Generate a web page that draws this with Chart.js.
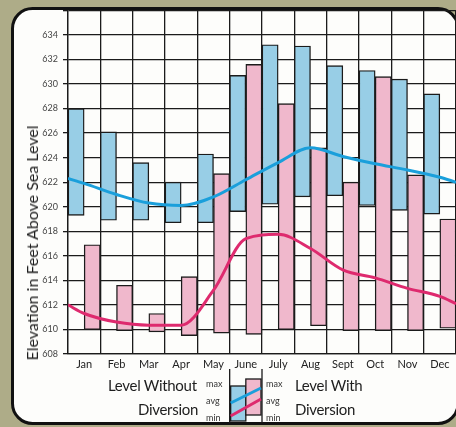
<!DOCTYPE html>
<html>
<head>
<meta charset="utf-8">
<script src="https://cdn.jsdelivr.net/npm/chart.js@4.4.1/dist/chart.umd.min.js"></script>
<style>
  html, body { margin: 0; padding: 0; background: #aeac88; }
  #wrap { position: relative; width: 456px; height: 427px; overflow: hidden; }
  #wrap canvas { position: absolute; left: 0; top: 0; }
  .txt { position: absolute; font-family: Lato, "DejaVu Sans", sans-serif; color: #1e1e1e; white-space: nowrap; line-height: 1; }
  .big { font-size: 15px; letter-spacing: -0.3px; }
  .tiny { font-size: 9px; color: #333; }
  #ytitle { left: 32px; top: 243px; font-size: 16px; letter-spacing: 0px; transform: translate(-50%, -50%) rotate(-90deg); }
</style>
</head>
<body>
<div id="wrap">
  <canvas id="chartLevel" width="456" height="427"></canvas>
  <div class="txt" id="ytitle">Elevation in Feet Above Sea Level</div>
  <div class="txt big" style="left:108px; top:378px;">Level Without</div>
  <div class="txt big" style="left:138px; top:402px;">Diversion</div>
  <div class="txt tiny" style="left:206px; top:379px;">max</div>
  <div class="txt tiny" style="left:206px; top:396px;">avg</div>
  <div class="txt tiny" style="left:206px; top:413px;">min</div>
  <div class="txt tiny" style="left:266px; top:379px;">max</div>
  <div class="txt tiny" style="left:266px; top:396px;">avg</div>
  <div class="txt tiny" style="left:266px; top:413px;">min</div>
  <div class="txt big" style="left:295px; top:378px;">Level With</div>
  <div class="txt big" style="left:295px; top:402px;">Diversion</div>
</div>
<script>
// monthly ranges (feet above sea level)
var months = ['Jan', 'Feb', 'Mar', 'Apr', 'May', 'June', 'July', 'Aug', 'Sept', 'Oct', 'Nov', 'Dec'];
var withoutMax = [628.0, 626.1, 623.6, 622.0, 624.3, 630.7, 633.2, 633.1, 631.5, 631.1, 630.4, 629.2];
var withoutMin = [619.3, 618.9, 618.9, 618.7, 618.7, 619.6, 620.2, 620.8, 620.9, 620.1, 619.7, 619.4];
var withMax = [616.9, 613.6, 611.3, 614.3, 622.7, 631.6, 628.4, 624.8, 622.0, 630.6, 622.6, 619.0];
var withMin = [610.0, 609.9, 609.8, 609.5, 609.7, 609.6, 610.0, 610.3, 609.9, 609.9, 609.9, 610.1];

// average curves: start of Jan, each month, end of Dec (month index)
var avgAt = [0, 0.5, 1.5, 2.5, 3.5, 4.5, 5.5, 6.5, 7.5, 8.5, 9.5, 10.5, 11.5, 12];
var avgWithout = [622.3, 621.9, 621.0, 620.3, 620.1, 620.8, 622.2, 623.6, 624.8, 624.1, 623.5, 623.0, 622.4, 622.0];
var avgWith = [612.0, 611.3, 610.6, 610.35, 610.35, 613.2, 617.4, 617.75, 616.6, 614.85, 614.2, 613.35, 612.7, 612.1];

var yTicks = [608, 636, 2];

var BLUE = '#98cee6', PINK = '#f0b8cc';
var BLUE_LINE = '#1a9fdb', PINK_LINE = '#de2a6e';
var INK = '#1b1b1b';
var FONT = 'Lato, "DejaVu Sans", sans-serif';

// blue bar fills the left half of each month, pink the right half
function rangeBars(lo, hi, half) {
    return lo.map(function (v, i) { return { x: i + half, y: [v, hi[i]] }; });
}
function curve(ys) {
    return avgAt.map(function (x, i) { return { x: x, y: ys[i] }; });
}

// olive page + rounded frame behind, legend key in front
var framePlugin = {
    id: 'frame',
    beforeDraw: function (chart) {
        var c = chart.ctx;
        c.save();
        c.fillStyle = '#aeac88';
        c.fillRect(0, 0, chart.width, chart.height);
        c.beginPath();
        c.roundRect(12.5, 8.5, 445.5, 415, 20);
        c.fillStyle = '#fdfdfb';
        c.fill();
        c.lineWidth = 3;
        c.strokeStyle = '#111';
        c.stroke();
        c.restore();
    },
    afterDraw: function (chart) {
        var c = chart.ctx, xs = chart.scales.x;
        var l = xs.getPixelForValue(5), mid = xs.getPixelForValue(5.5), r = xs.getPixelForValue(6);
        c.save();
        c.lineWidth = 1.3;
        c.strokeStyle = INK;
        c.fillStyle = BLUE;
        c.fillRect(l + 1, 386, mid - l - 1, 35);
        c.strokeRect(l + 1, 386, mid - l - 1, 35);
        c.fillStyle = PINK;
        c.fillRect(mid, 379, r - mid - 1, 36);
        c.strokeRect(mid, 379, r - mid - 1, 36);
        c.beginPath();
        c.moveTo(l, 369); c.lineTo(l, 423);
        c.moveTo(r, 369); c.lineTo(r, 423);
        c.stroke();
        c.lineWidth = 3;
        c.strokeStyle = BLUE_LINE;
        c.beginPath(); c.moveTo(l + 1, 403); c.lineTo(r - 1, 388); c.stroke();
        c.strokeStyle = PINK_LINE;
        c.beginPath(); c.moveTo(l + 1, 416); c.lineTo(r - 1, 399); c.stroke();
        c.restore();
    }
};

var barStyle = { borderColor: INK, borderWidth: 1.4, borderSkipped: false, grouped: false,
                 categoryPercentage: 1, barPercentage: 1, order: 2 };
var lineStyle = { type: 'line', borderWidth: 3, pointRadius: 0, cubicInterpolationMode: 'monotone', order: 1 };

var chartLevel = new Chart(document.getElementById('chartLevel'), {
    type: 'bar',
    data: {
        labels: months,
        datasets: [
            Object.assign({ label: 'Level Without Diversion', data: rangeBars(withoutMin, withoutMax, 0.25), backgroundColor: BLUE }, barStyle),
            Object.assign({ label: 'Level With Diversion', data: rangeBars(withMin, withMax, 0.75), backgroundColor: PINK }, barStyle),
            Object.assign({ label: 'avg without', data: curve(avgWithout), borderColor: BLUE_LINE }, lineStyle),
            Object.assign({ label: 'avg with', data: curve(avgWith), borderColor: PINK_LINE }, lineStyle)
        ]
    },
    options: {
        responsive: false,
        animation: false,
        layout: { padding: { top: 10, left: 0, right: 0, bottom: 0 } },
        plugins: { legend: { display: false }, tooltip: { enabled: false } },
        scales: {
            x: {
                type: 'linear',
                z: 1,
                min: 0,
                max: months.length,
                offset: false,
                grid: { offset: false, color: INK, lineWidth: 1.3, drawTicks: false },
                border: { color: INK, width: 1.3 },
                ticks: { stepSize: 1, display: false },
                afterFit: function (s) { s.height = 0; }
            },
            months: {
                type: 'category',
                position: 'bottom',
                labels: months,
                offset: true,
                grid: { display: false, offset: true, drawTicks: false },
                border: { display: false },
                ticks: { padding: 4, color: '#222', autoSkip: false, maxRotation: 0, font: { family: FONT, size: 11 } },
                afterFit: function (s) { s.height = 73; }
            },
            y: {
                z: 1,
                min: yTicks[0],
                max: yTicks[1],
                grid: { color: INK, lineWidth: 1.3, tickLength: 5 },
                border: { color: INK, width: 1.3 },
                ticks: {
                    stepSize: yTicks[2], padding: 5, color: '#444', font: { family: FONT, size: 9 },
                    callback: function (v) { return v === yTicks[1] ? '' : v; }
                },
                afterFit: function (s) { s.width = 68; }
            }
        }
    },
    plugins: [framePlugin]
});
</script>
</body>
</html>
